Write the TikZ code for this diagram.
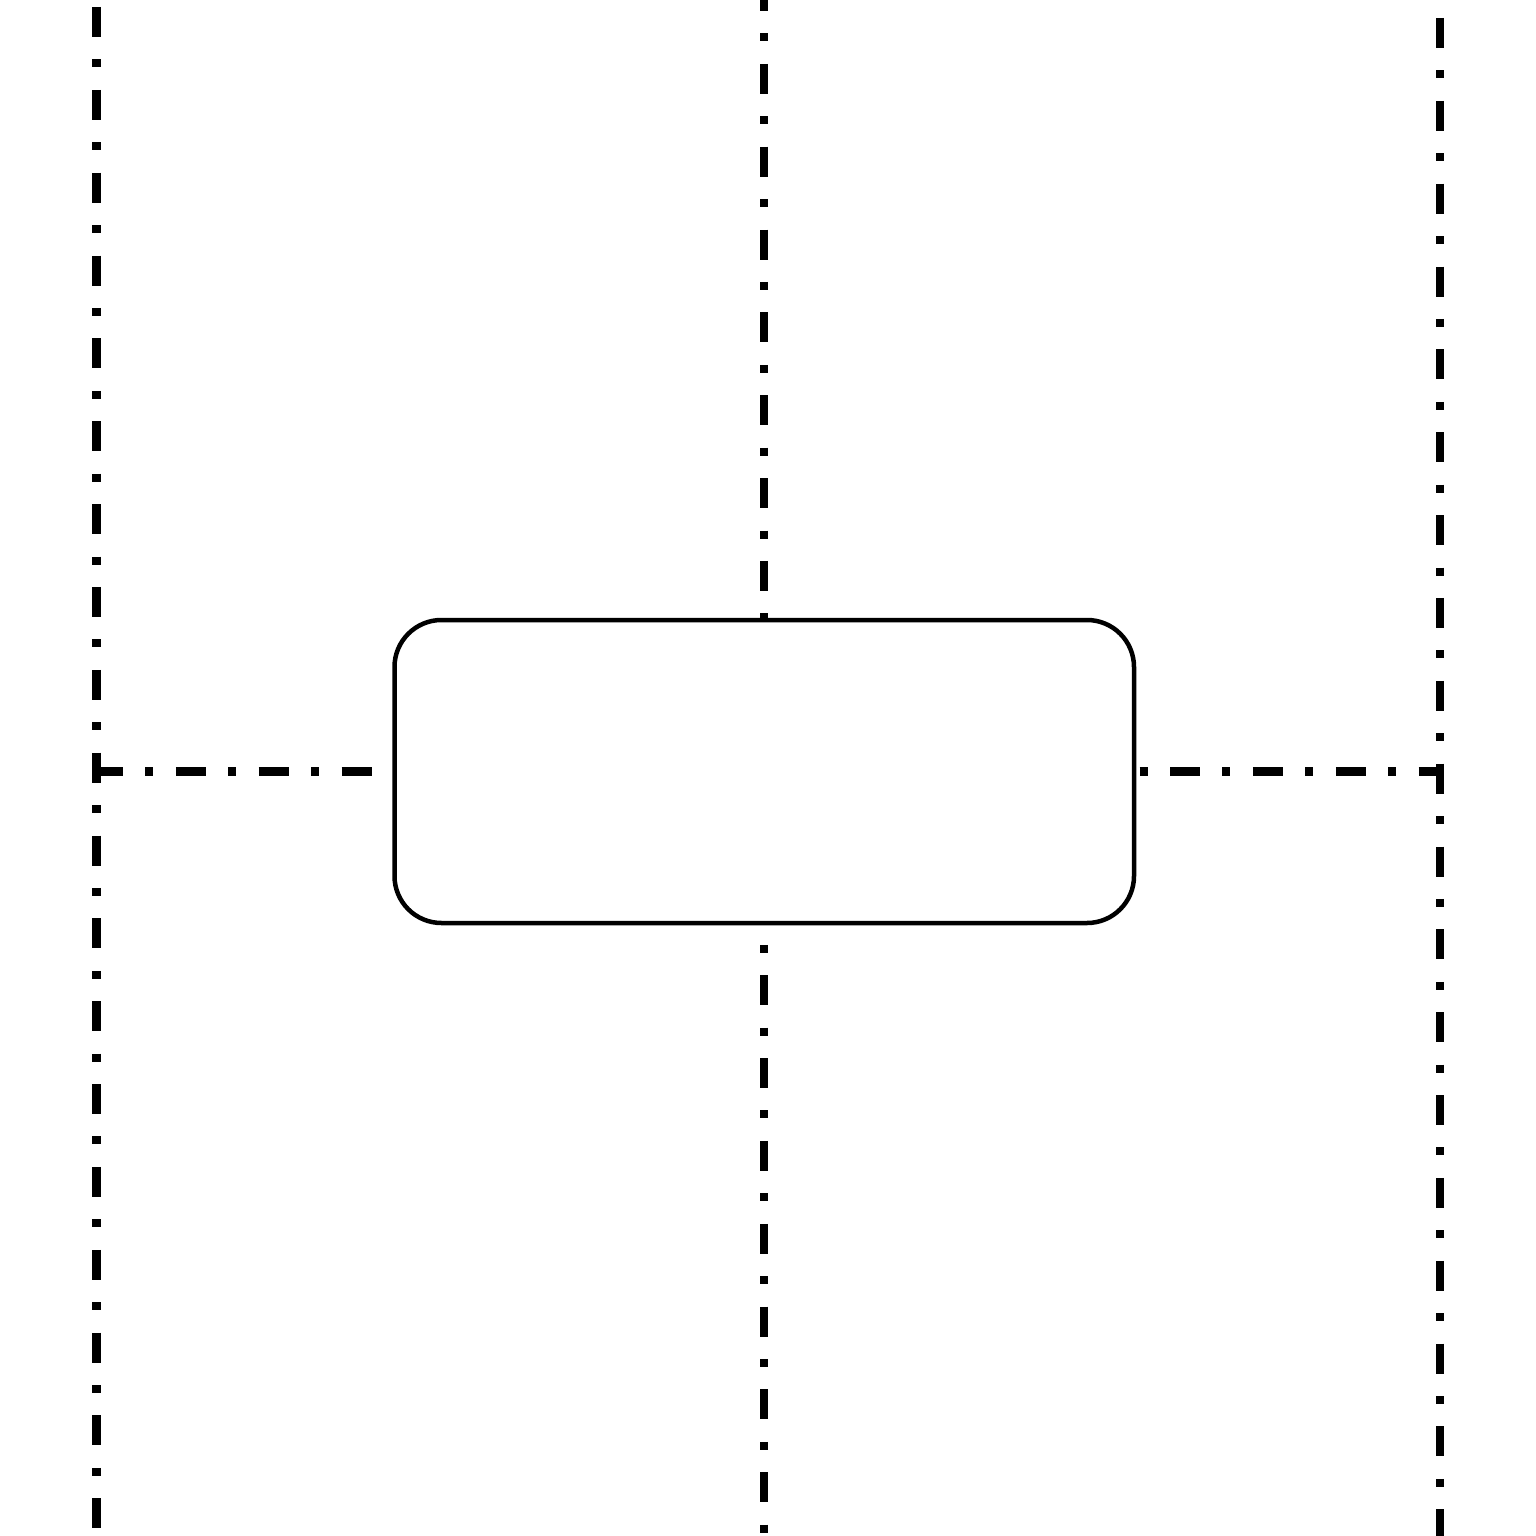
\documentclass[tikz,border=0pt]{standalone}
\begin{document}
\begin{tikzpicture}[x=1pt,y=-1pt,
  axisline/.style={line width=8.5pt,dash pattern=on 30pt off 22.4pt on 8pt off 22.45pt},
  box/.style={draw,fill=white,line width=4.5pt,rounded corners=47pt,rectangle,inner sep=0pt,minimum width=739.5pt,minimum height=303pt}]
\useasboundingbox (0,0) rectangle (1536,1536);
\coordinate (lt) at (96.5,7);
\coordinate (lb) at (96.5,1540);
\coordinate (mt) at (764,-19);
\coordinate (mb) at (764,1540);
\coordinate (rt) at (1440,18);
\coordinate (rb) at (1440,1540);
\coordinate (hl) at (93,771.5);
\coordinate (hr) at (1441,771.5);
\draw[axisline] (lt) -- (lb);
\draw[axisline] (mt) -- (mb);
\draw[axisline] (rt) -- (rb);
\draw[axisline] (hl) -- (hr);
\node[box] (frame) at (764.25,771.5) {};
\end{tikzpicture}
\end{document}
